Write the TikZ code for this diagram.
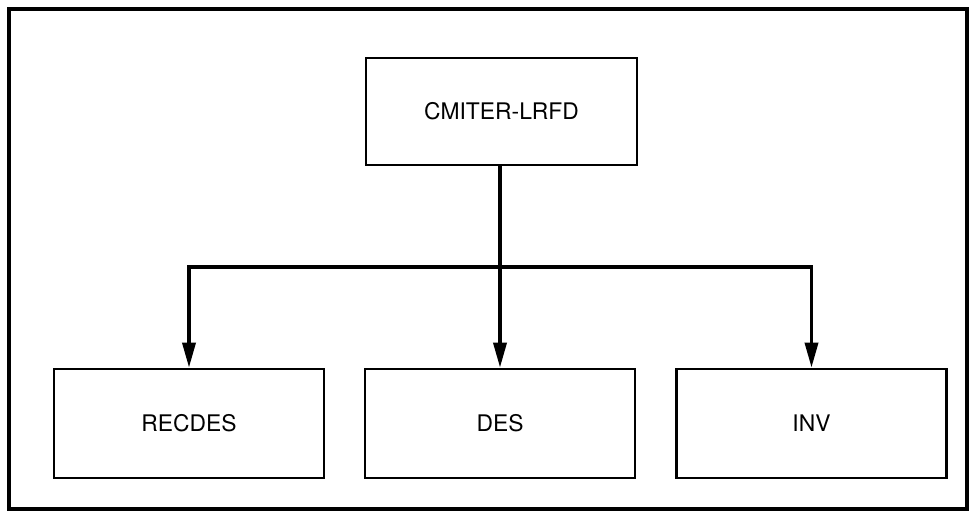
\documentclass[tikz,border=0pt]{standalone}
\usepackage{fontspec}
\setmainfont{TeX Gyre Heros}
\usetikzlibrary{
    arrows.meta,
    positioning,
    calc
}
\tikzset{
  block/.style  = {draw, line width=1.5pt, minimum width=5.4cm,
                   minimum height=2.18cm, align=center,
                   font=\fontsize{13}{15}\selectfont},
  arr/.style    = {-{Triangle[length=0.5cm, width=0.26cm]}, line width=2pt},
  link/.style   = {line width=2pt}
}

\begin{document}
\begin{tikzpicture}[
        frame/.style={draw, line width=2.2pt}
      ]
      \useasboundingbox (0,0) rectangle (19.4,10.24);
      \draw[frame] (0.18,0.06) rectangle (19.34,10.06);
      \node[block, minimum width=5.42cm, minimum height=2.14cm] (top) at (10.03,8.01) {CMITER-LRFD};
      \node[block] (des) at (10.0,1.77) {DES};
      \node[block] (recdes) at (3.78,1.77) {RECDES};
      \node[block] (inv) at (16.23,1.77) {INV};
      \coordinate (split) at (des.north |- 0,4.9);
      \draw[link] (top.south -| split) -- (split);
      \draw[arr] (split) -- (des.north);
      \draw[arr] (split) -| (recdes.north);
      \draw[arr] (split) -| (inv.north);
    \end{tikzpicture}
\end{document}
